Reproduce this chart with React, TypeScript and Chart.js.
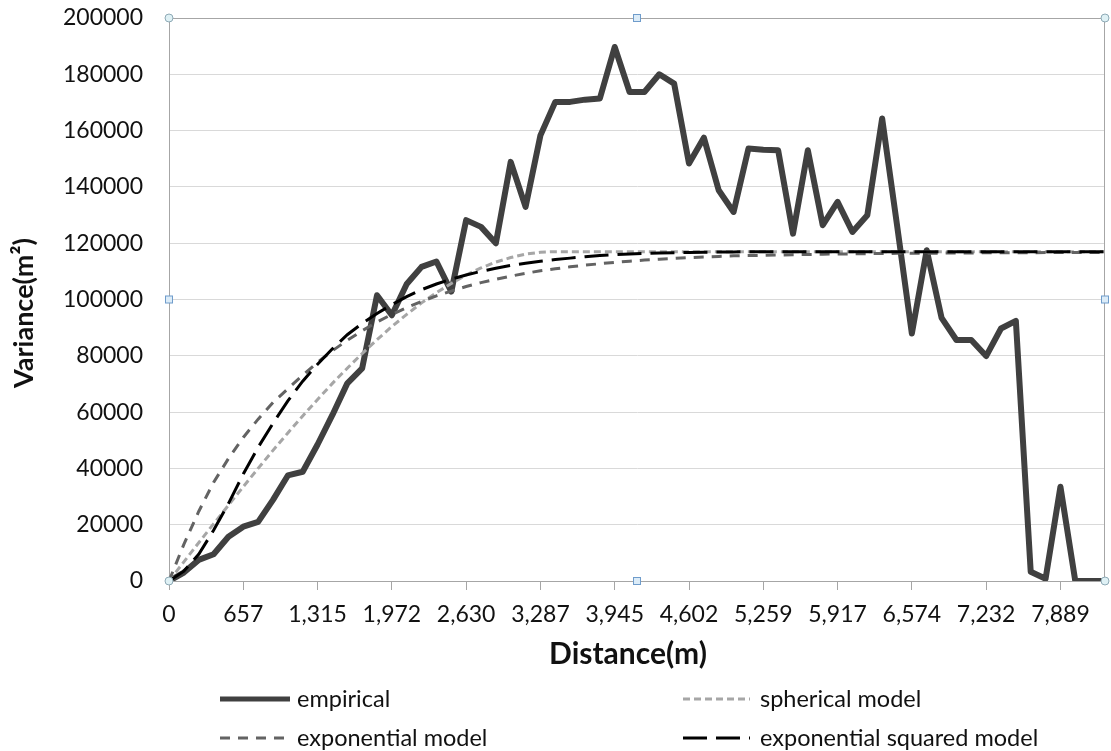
import React, { useEffect, useRef } from 'react';
import { Chart, registerables } from 'chart.js';

Chart.register(...registerables);

// ---- data ----
const xTickLabels = ['0', '657', '1,315', '1,972', '2,630', '3,287', '3,945', '4,602', '5,259', '5,917', '6,574', '7,232', '7,889'];
const pointsPerTick = 5;
const pointCount = 64;
const categories: string[] = Array.from({ length: pointCount }, (_, i) =>
  i % pointsPerTick === 0 ? (xTickLabels[i / pointsPerTick] ?? '') : ''
);

const empirical = [
  0, 3000, 7500, 9500, 15700, 19300, 21000, 28800, 37500, 38800,
  48500, 59000, 70200, 75500, 101500, 94400, 105500, 111600, 113500, 102800,
  128200, 125800, 120000, 148900, 132900, 158300, 170200, 170200, 171000, 171400,
  189700, 173700, 173700, 180000, 176700, 148300, 157500, 138800, 131100, 153600,
  153200, 153000, 123400, 153000, 126400, 134700, 124000, 129900, 164300, 126500,
  87900, 117500, 93500, 85600, 85600, 79900, 89700, 92400, 3300, 800,
  33500, 0, 0, 0,
];

const spherical = [
  0, 6800, 13600, 20300, 26900, 33500, 40000, 46400, 52600, 58600,
  64500, 70200, 75600, 80800, 85700, 90400, 94700, 98800, 102400, 105700,
  108700, 111200, 113300, 114900, 116100, 116800, 117000, 117000, 117000, 117000,
  117000, 117000, 117000, 117000, 117000, 117000, 117000, 117000, 117000, 117000,
  117000, 117000, 117000, 117000, 117000, 117000, 117000, 117000, 117000, 117000,
  117000, 117000, 117000, 117000, 117000, 117000, 117000, 117000, 117000, 117000,
  117000, 117000, 117000, 117000,
];

const exponential = [
  0, 13000, 24700, 35000, 43500, 51000, 57500, 63400, 68300, 73100,
  77700, 81800, 85500, 88900, 92000, 94700, 97100, 99300, 101300, 103000,
  104600, 106000, 107200, 108300, 109300, 110200, 110900, 111600, 112200, 112700,
  113200, 113600, 114000, 114300, 114600, 114900, 115100, 115300, 115500, 115600,
  115700, 115800, 115900, 116000, 116100, 116200, 116200, 116300, 116300, 116400,
  116400, 116400, 116500, 116500, 116500, 116600, 116600, 116600, 116600, 116700,
  116700, 116700, 116700, 116700,
];

const exponentialSquared = [
  0, 3500, 9500, 18000, 27500, 38000, 47500, 56000, 64000, 71000,
  77000, 82500, 87500, 91500, 95000, 98200, 101000, 103500, 105500, 107200,
  108700, 110000, 111100, 112100, 112900, 113600, 114200, 114700, 115200, 115600,
  115900, 116200, 116400, 116500, 116600, 116700, 116800, 116850, 116900, 116950,
  117000, 117000, 117000, 117000, 117000, 117000, 117000, 117000, 117000, 117000,
  117000, 117000, 117000, 117000, 117000, 117000, 117000, 117000, 117000, 117000,
  117000, 117000, 117000, 117000,
];

const seriesNames = ['empirical', 'spherical model', 'exponential model', 'exponential squared model'];
const yMin = 0;
const yMax = 200000;
const yStep = 20000;
const xTitle = 'Distance(m)';
const yTitle = 'Variance(m\u00B2)';

const FONT = 'Lato, "Open Sans", sans-serif';

const decorPlugin = {
  id: 'decor',
  beforeDatasetsDraw(chart: any) {
    const { ctx, chartArea: a } = chart;
    ctx.save();
    ctx.strokeStyle = '#a6a6a6';
    ctx.lineWidth = 1;
    ctx.beginPath();
    ctx.moveTo(a.left, a.top + 0.5);
    ctx.lineTo(a.right - 0.5, a.top + 0.5);
    ctx.lineTo(a.right - 0.5, a.bottom);
    ctx.stroke();
    ctx.restore();
  },
  afterDraw(chart: any) {
    const { ctx, chartArea: a } = chart;
    const ds = chart.data.datasets;
    // legend (2 x 2 grid)
    const colX = [220, 683];
    const rowY = [699, 738];
    const sampleLen = [70, 67];
    ctx.save();
    ctx.font = `23.5px ${FONT}`;
    ctx.textBaseline = 'middle';
    ctx.textAlign = 'left';
    ds.forEach((d: any, i: number) => {
      const col = i % 2;
      const row = Math.floor(i / 2);
      const x0 = colX[col];
      const y0 = rowY[row];
      ctx.save();
      ctx.strokeStyle = d.borderColor;
      ctx.lineWidth = d.borderWidth === 6 ? 5 : d.borderWidth;
      ctx.setLineDash(d.borderDash || []);
      ctx.lineCap = 'butt';
      ctx.beginPath();
      ctx.moveTo(x0, y0);
      ctx.lineTo(x0 + sampleLen[col], y0);
      ctx.stroke();
      ctx.restore();
      ctx.fillStyle = '#111';
      ctx.fillText(d.label, x0 + 77, y0);
    });
    ctx.restore();

    // axis titles
    ctx.save();
    ctx.fillStyle = '#111';
    ctx.textAlign = 'center';
    ctx.textBaseline = 'middle';
    ctx.font = `bold 30px ${FONT}`;
    ctx.fillText(xTitle, 628, 654);
    ctx.translate(24, 313);
    ctx.rotate(-Math.PI / 2);
    ctx.font = `bold 27px ${FONT}`;
    ctx.fillText(yTitle, 0, 0);
    ctx.restore();

    // selection handles
    const midX = (a.left + a.right) / 2;
    const midY = (a.top + a.bottom) / 2;
    ctx.save();
    ctx.lineWidth = 1;
    const corners = [
      [a.left, a.top], [a.right, a.top], [a.left, a.bottom], [a.right, a.bottom],
    ];
    corners.forEach(([x, y]) => {
      ctx.beginPath();
      ctx.arc(x, y, 4, 0, Math.PI * 2);
      ctx.fillStyle = '#dff1f5';
      ctx.fill();
      ctx.strokeStyle = '#8eaab6';
      ctx.stroke();
    });
    const mids = [
      [midX, a.top], [a.left, midY], [a.right, midY], [midX, a.bottom],
    ];
    mids.forEach(([x, y]) => {
      ctx.fillStyle = '#dcecf8';
      ctx.fillRect(x - 3.5, y - 3.5, 7, 7);
      ctx.strokeStyle = '#6f9ccb';
      ctx.strokeRect(x - 3.5, y - 3.5, 7, 7);
    });
    ctx.restore();
  },
};

export default function App() {
  const canvasRef = useRef<HTMLCanvasElement | null>(null);

  useEffect(() => {
    if (!canvasRef.current) return;
    const chart = new Chart(canvasRef.current, {
      type: 'line',
      data: {
        labels: categories,
        datasets: [
          {
            label: seriesNames[0],
            data: empirical,
            borderColor: '#404040',
            borderWidth: 6,
            pointRadius: 0,
            borderJoinStyle: 'round',
            order: 4,
          },
          {
            label: seriesNames[1],
            data: spherical,
            borderColor: '#a6a6a6',
            borderWidth: 3,
            borderDash: [7, 4],
            pointRadius: 0,
            order: 3,
          },
          {
            label: seriesNames[2],
            data: exponential,
            borderColor: '#636363',
            borderWidth: 3,
            borderDash: [10, 8],
            pointRadius: 0,
            order: 2,
          },
          {
            label: seriesNames[3],
            data: exponentialSquared,
            borderColor: '#000000',
            borderWidth: 3,
            borderDash: [24, 9],
            pointRadius: 0,
            order: 1,
          },
        ],
      },
      options: {
        responsive: false,
        animation: false,
        events: [],
        layout: { padding: { top: 18, right: 6, left: 0, bottom: 0 } },
        plugins: {
          legend: { display: false },
          tooltip: { enabled: false },
          title: { display: false },
        },
        scales: {
          x: {
            type: 'category',
            offset: false,
            afterFit: (scale: any) => {
              scale.height = 170;
              scale.paddingLeft = 0;
              scale.paddingRight = 0;
            },
            grid: {
              drawOnChartArea: false,
              drawTicks: true,
              tickLength: 9,
              color: (c: any) => (c.index % pointsPerTick === 0 ? '#a6a6a6' : 'rgba(0,0,0,0)'),
              lineWidth: 1,
            },
            border: { display: true, color: '#a6a6a6', width: 1 },
            ticks: {
              autoSkip: false,
              maxRotation: 0,
              minRotation: 0,
              padding: 11,
              color: '#111',
              font: { family: FONT, size: 23 },
            },
          },
          y: {
            type: 'linear',
            min: yMin,
            max: yMax,
            afterFit: (scale: any) => {
              scale.width = 169;
              scale.paddingTop = 0;
              scale.paddingBottom = 0;
            },
            grid: { color: '#d9d9d9', lineWidth: 1, drawTicks: false },
            border: { display: true, color: '#a6a6a6', width: 1 },
            ticks: {
              stepSize: yStep,
              padding: 26,
              color: '#111',
              font: { family: FONT, size: 23 },
              callback: (v: any) => String(v),
            },
          },
        },
      },
      plugins: [decorPlugin],
    } as any);
    return () => chart.destroy();
  }, []);

  return (
    <div style={{ position: 'absolute', left: 0, top: 0, width: 1111, height: 751, background: '#fff' }}>
      <canvas ref={canvasRef} width={1111} height={751} />
    </div>
  );
}
